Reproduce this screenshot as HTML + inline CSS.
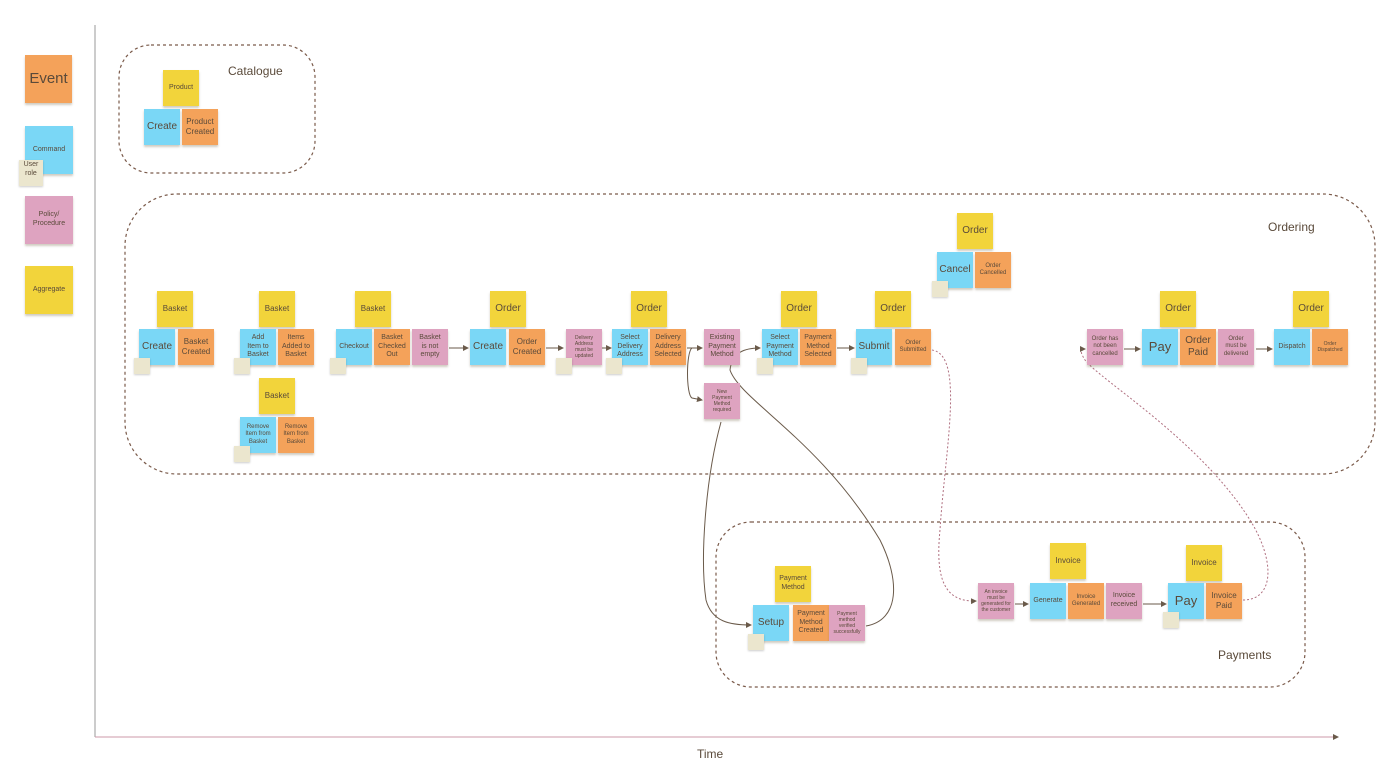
<!DOCTYPE html>
<html><head><meta charset="utf-8"><style>
body{margin:0;width:1400px;height:775px;background:#fff;position:relative;overflow:hidden;font-family:"Liberation Sans",sans-serif;color:#5a4a3a}
.s{position:absolute;width:36px;height:36px;display:flex;align-items:center;justify-content:center;text-align:center;font-size:7px;line-height:1.25;box-shadow:0 2px 2px rgba(120,110,80,.35)}
.y{background:#F2D43B}.b{background:#7AD7F6}.o{background:#F4A25A}.p{background:#DEA3C0}
.u{position:absolute;width:16px;height:16px;background:#EBE6CE;box-shadow:0 1px 2px rgba(0,0,0,.2)}
.L{font-size:10px}.M{font-size:8px}
.t{position:absolute;font-size:12px;color:#5a4a3a}
</style></head><body>
<svg width="1400" height="775" style="position:absolute;left:0;top:0">
<defs><marker id="a" markerWidth="6" markerHeight="6" refX="5" refY="3" orient="auto"><path d="M0,0 L6,3 L0,6z" fill="#6a5a4a"/></marker></defs>
<line x1="95" y1="25" x2="95" y2="737" stroke="#999" stroke-width="1"/>
<line x1="95" y1="737" x2="1338" y2="737" stroke="#c9a" stroke-width="1" marker-end="url(#a)"/>
<g fill="none" stroke="#7a5a4a" stroke-width="1.2" stroke-dasharray="3,3">
<rect x="119" y="45" width="196" height="128" rx="32"/>
<rect x="125" y="194" width="1250" height="280" rx="52"/>
<rect x="716" y="522" width="589" height="165" rx="35"/>
</g>
<g fill="none" stroke="#6a5a4a" stroke-width="1">
<line x1="449" y1="348" x2="468" y2="348" marker-end="url(#a)"/>
<line x1="546" y1="348" x2="563" y2="348" marker-end="url(#a)"/>
<line x1="600" y1="348" x2="611" y2="348" marker-end="url(#a)"/>
<line x1="687" y1="348" x2="702" y2="348" marker-end="url(#a)"/>
<path d="M692,348 C686,352 686,395 692,398 L702,400" marker-end="url(#a)"/>
<line x1="837" y1="348" x2="854" y2="348" marker-end="url(#a)"/>
<path d="M866,626 C900,620 900,580 880,540 C820,440 740,400 730,370 C732,352 745,348 760,348" marker-end="url(#a)"/>
<path d="M721,422 C705,480 700,560 706,600 C712,622 730,625 751,625" marker-end="url(#a)"/>
<line x1="1015" y1="604" x2="1028" y2="604" marker-end="url(#a)"/>
<line x1="1143" y1="604" x2="1166" y2="604" marker-end="url(#a)"/>
<line x1="1256" y1="349" x2="1272" y2="349" marker-end="url(#a)"/>
<line x1="1124" y1="349" x2="1140" y2="349" marker-end="url(#a)"/>
</g>
<g fill="none" stroke="#b07080" stroke-width="1" stroke-dasharray="2,2">
<path d="M932,350 C965,355 945,450 940,530 C935,580 945,602 976,601" marker-end="url(#a)"/>
<path d="M1243,600 C1275,600 1275,560 1250,520 C1200,440 1100,380 1085,360 C1080,352 1080,349 1085,349" marker-end="url(#a)"/>
</g>
</svg>
<div class="s o" style="left:25px;top:55px;width:47px;height:48px;font-size:15px">Event</div>
<div class="s b" style="left:25px;top:126px;width:48px;height:48px">Command</div>
<div class="u" style="left:19px;top:160px;width:24px;height:26px;font-size:7px;text-align:center;line-height:1.3">User<br>role</div>
<div class="s p" style="left:25px;top:196px;width:48px;height:48px">Policy/<br>Procedure</div>
<div class="s y" style="left:25px;top:266px;width:48px;height:48px">Aggregate</div>

<div class="t" style="left:228px;top:64px">Catalogue</div>
<div class="t" style="left:1268px;top:220px">Ordering</div>
<div class="t" style="left:1218px;top:648px">Payments</div>
<div class="t" style="left:697px;top:747px">Time</div>

<div class="s y" style="left:163px;top:70px">Product</div>
<div class="s b L" style="left:144px;top:109px">Create</div>
<div class="s o M" style="left:182px;top:109px">Product<br>Created</div>

<div class="s y M" style="left:157px;top:291px">Basket</div>
<div class="s b L" style="left:139px;top:329px">Create</div>
<div class="s o M" style="left:178px;top:329px">Basket<br>Created</div>
<div class="u" style="left:134px;top:358px"></div>

<div class="s y M" style="left:259px;top:291px">Basket</div>
<div class="s b" style="left:240px;top:329px">Add<br>Item to<br>Basket</div>
<div class="s o" style="left:278px;top:329px">Items<br>Added to<br>Basket</div>
<div class="u" style="left:234px;top:358px"></div>
<div class="s y M" style="left:259px;top:378px">Basket</div>
<div class="s b" style="left:240px;top:417px;font-size:6px">Remove<br>Item from<br>Basket</div>
<div class="s o" style="left:278px;top:417px;font-size:6px">Remove<br>Item from<br>Basket</div>
<div class="u" style="left:234px;top:446px"></div>

<div class="s y M" style="left:355px;top:291px">Basket</div>
<div class="s b" style="left:336px;top:329px">Checkout</div>
<div class="s o" style="left:374px;top:329px">Basket<br>Checked<br>Out</div>
<div class="s p" style="left:412px;top:329px">Basket<br>is not<br>empty</div>
<div class="u" style="left:330px;top:358px"></div>

<div class="s y L" style="left:490px;top:291px">Order</div>
<div class="s b L" style="left:470px;top:329px">Create</div>
<div class="s o M" style="left:509px;top:329px">Order<br>Created</div>
<div class="s p" style="left:566px;top:329px;font-size:5px">Delivery<br>Address<br>must be<br>updated</div>
<div class="u" style="left:556px;top:358px"></div>

<div class="s y L" style="left:631px;top:291px">Order</div>
<div class="s b" style="left:612px;top:329px">Select<br>Delivery<br>Address</div>
<div class="s o" style="left:650px;top:329px">Delivery<br>Address<br>Selected</div>
<div class="u" style="left:606px;top:358px"></div>

<div class="s p" style="left:704px;top:329px">Existing<br>Payment<br>Method</div>
<div class="s p" style="left:704px;top:383px;font-size:5px">New<br>Payment<br>Method<br>required</div>

<div class="s y L" style="left:781px;top:291px">Order</div>
<div class="s b" style="left:762px;top:329px">Select<br>Payment<br>Method</div>
<div class="s o" style="left:800px;top:329px">Payment<br>Method<br>Selected</div>
<div class="u" style="left:757px;top:358px"></div>

<div class="s y L" style="left:875px;top:291px">Order</div>
<div class="s b L" style="left:856px;top:329px">Submit</div>
<div class="s o" style="left:895px;top:329px;font-size:6px">Order<br>Submitted</div>
<div class="u" style="left:851px;top:358px"></div>

<div class="s y L" style="left:957px;top:213px">Order</div>
<div class="s b L" style="left:937px;top:252px">Cancel</div>
<div class="s o" style="left:975px;top:252px;font-size:6px">Order<br>Cancelled</div>
<div class="u" style="left:932px;top:281px"></div>

<div class="s p" style="left:1087px;top:329px;font-size:6px">Order has<br>not been<br>cancelled</div>
<div class="s y L" style="left:1160px;top:291px">Order</div>
<div class="s b" style="left:1142px;top:329px;font-size:13px">Pay</div>
<div class="s o L" style="left:1180px;top:329px">Order<br>Paid</div>
<div class="s p" style="left:1218px;top:329px;font-size:6px">Order<br>must be<br>delivered</div>
<div class="s y L" style="left:1293px;top:291px">Order</div>
<div class="s b" style="left:1274px;top:329px">Dispatch</div>
<div class="s o" style="left:1312px;top:329px;font-size:5px">Order<br>Dispatched</div>

<div class="s y" style="left:775px;top:566px">Payment<br>Method</div>
<div class="s b L" style="left:753px;top:605px">Setup</div>
<div class="s o" style="left:793px;top:605px">Payment<br>Method<br>Created</div>
<div class="s p" style="left:829px;top:605px;font-size:5px">Payment<br>method<br>verified<br>successfully</div>
<div class="u" style="left:748px;top:634px"></div>

<div class="s p" style="left:978px;top:583px;font-size:5px">An invoice<br>must be<br>generated for<br>the customer</div>
<div class="s y M" style="left:1050px;top:543px">Invoice</div>
<div class="s b" style="left:1030px;top:583px">Generate</div>
<div class="s o" style="left:1068px;top:583px;font-size:6px">Invoice<br>Generated</div>
<div class="s p" style="left:1106px;top:583px">Invoice<br>received</div>
<div class="s y M" style="left:1186px;top:545px">Invoice</div>
<div class="s b" style="left:1168px;top:583px;font-size:13px">Pay</div>
<div class="s o M" style="left:1206px;top:583px">Invoice<br>Paid</div>
<div class="u" style="left:1163px;top:612px"></div>
</body></html>
